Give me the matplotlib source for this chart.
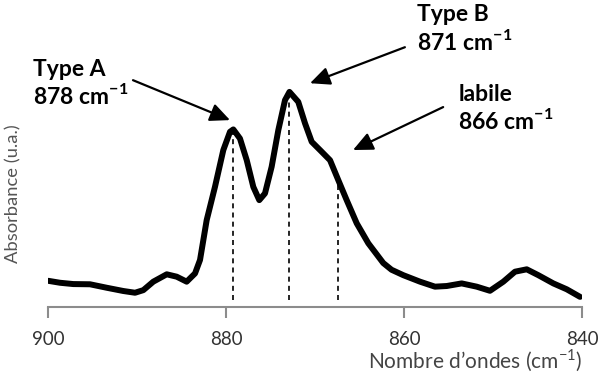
import numpy as np
import matplotlib
matplotlib.use('Agg')
import matplotlib.pyplot as plt

# spectrum (wavenumber cm-1, absorbance a.u.)
wavenumber = [899.97, 898.65, 897.16, 895.28, 893.40, 891.54, 890.22, 889.29, 888.17, 886.66,
              885.54, 884.42, 883.48, 882.92, 882.17, 881.24, 880.30, 879.55, 879.18, 878.43,
              877.67, 876.93, 876.26, 875.62, 874.87, 874.12, 873.37, 872.87, 871.88, 871.12,
              870.37, 869.44, 868.31, 867.38, 866.44, 865.31, 864.01, 862.33, 861.40, 860.08,
              858.20, 856.52, 855.20, 853.52, 851.83, 850.34, 848.84, 847.53, 846.21, 844.91,
              843.22, 841.72, 840.22]
absorbance = [0.121, 0.112, 0.106, 0.105, 0.089, 0.074, 0.066, 0.078, 0.117, 0.151,
              0.140, 0.117, 0.155, 0.217, 0.401, 0.554, 0.724, 0.808, 0.819, 0.777,
              0.677, 0.554, 0.493, 0.524, 0.647, 0.816, 0.954, 0.992, 0.946, 0.847,
              0.762, 0.724, 0.677, 0.585, 0.493, 0.386, 0.294, 0.203, 0.172, 0.147,
              0.117, 0.094, 0.097, 0.109, 0.094, 0.075, 0.117, 0.163, 0.174, 0.147,
              0.109, 0.082, 0.047]

# dashed markers
band_pos = [879.2, 872.9, 867.4]
band_top = [0.819, 0.992, 0.585]

# annotations: label, arrow tip, arrow tail, text position
labels = ['Type A\n878 cm$^{\\mathbf{-1}}$', 'Type B\n871 cm$^{\\mathbf{-1}}$',
          'labile\n866 cm$^{\\mathbf{-1}}$']
tips = [(879.55, 0.862), (870.56, 1.032), (865.73, 0.724)]
tails = [(890.45, 1.046), (859.9, 1.198), (855.6, 0.922)]
text_pos = [(901.7, 1.145), (858.5, 1.395), (853.9, 1.030)]

plt.rcParams['font.family'] = 'Lato'
plt.rcParams['mathtext.fontset'] = 'custom'
plt.rcParams['mathtext.rm'] = 'Lato'
plt.rcParams['mathtext.bf'] = 'Lato:bold'

fig = plt.figure(figsize=(6, 3.74), dpi=100)
ax = fig.add_axes([0.08, 0.179, 0.89, 0.767])

ax.plot(wavenumber, absorbance, color='black', lw=4.3,
        solid_joinstyle='round', solid_capstyle='round')
ax.vlines(band_pos, 0.032, band_top, colors='black', lw=1.2,
          linestyles=(0, (3, 2.5)))

for lab, tip, tail, tp in zip(labels, tips, tails, text_pos):
    ax.annotate('', xy=tip, xytext=tail, annotation_clip=False,
                arrowprops=dict(arrowstyle='-|>,head_length=1.2,head_width=0.55',
                                color='black', lw=1.6, shrinkA=0, shrinkB=0))
    ax.text(tp[0], tp[1], lab, ha='left', va='top', fontsize=16.5,
            fontweight='bold', linespacing=1.15, clip_on=False)

ax.set_xlim(900, 840)
ax.set_ylim(0, 1.3226)
ax.set_xticks([900, 880, 860, 840])
ax.set_yticks([])
for s in ['top', 'right', 'left']:
    ax.spines[s].set_visible(False)
ax.spines['bottom'].set_color('#8c8c8c')
ax.spines['bottom'].set_linewidth(1.5)
ax.tick_params(axis='x', direction='out', length=8, width=1.5, color='#8c8c8c',
               labelsize=13.5, labelcolor='#333333', pad=9)

ax.set_xlabel("Nombre d\u2019ondes (cm$^{\\mathregular{-1}}$)", fontsize=15,
              color='#444444', loc='right', labelpad=0)
ax.set_ylabel('Absorbance (u.a.)', fontsize=13.2, color='#555555')
ax.yaxis.set_label_coords(-0.049, 0.397)

fig.savefig('out.png', dpi=100)
